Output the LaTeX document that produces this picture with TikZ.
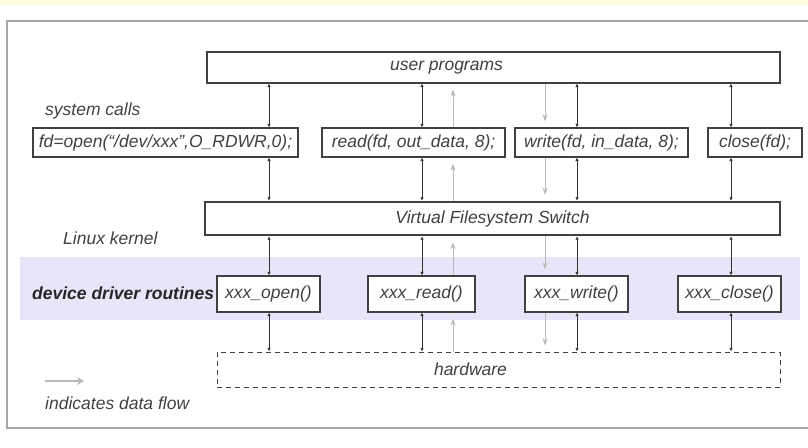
\documentclass[tikz,border=0pt]{standalone}
\usepackage{fontspec}
\setmainfont{Liberation Sans}
\usetikzlibrary{arrows.meta}

\definecolor{bandblue}{RGB}{230,230,248}
\definecolor{paleyellow}{RGB}{255,252,222}
\definecolor{flowgray}{RGB}{185,185,185}
\definecolor{inkgray}{RGB}{65,65,65}
\newcommand{\diagfont}{\fontsize{17.5}{20}\selectfont\itshape}

\tikzset{>=latex}
\tikzset{
  box/.style={draw=black!75, line width=1.2pt, fill=white, inner sep=0pt,
    font=\diagfont, text=inkgray},
  boxtext/.style={font=\diagfont, text=inkgray, inner sep=0pt},
  conn/.style={<->, >={Latex[length=3.5pt,width=3.5pt]}, line width=1pt, black!80},
  flow/.style={->, >={Stealth[length=7pt,width=5pt]}, flowgray, line width=1pt,
    shorten >=6pt},
  tag/.style={font=\diagfont, text=inkgray, inner sep=0pt, anchor=west}
}

\begin{document}
\begin{tikzpicture}[x=1pt,y=-1pt]
  \useasboundingbox (0,0) rectangle (808,447);
  \fill[paleyellow] (0,0) rectangle (808,5);
  \draw[gray!70, line width=1.5pt] (7,21) rectangle (812,428);
  \fill[bandblue] (20,257) rectangle (800,320);

  % layers
  \node[box, minimum width=573pt, minimum height=31pt,
    label={[boxtext, xshift=-47pt]center:user programs}] (user) at (493.5,67.5) {};
  \node[box, minimum width=265pt, minimum height=29pt] (s1) at (165.5,142.5) {fd=open(“/dev/xxx”,O\_RDWR,0);};
  \node[box, minimum width=183pt, minimum height=29pt] (s2) at (413.5,142.5) {read(fd, out\_data, 8);};
  \node[box, minimum width=173pt, minimum height=29pt] (s3) at (601.5,142.5) {write(fd, in\_data, 8);};
  \node[box, minimum width=94pt, minimum height=29pt] (s4) at (755,142.5) {close(fd);};
  \node[box, line width=2.4pt, minimum width=575pt, minimum height=33pt] (vfs) at (492.5,218.5) {Virtual Filesystem Switch};
  \node[box, minimum width=103pt, minimum height=36pt] (d1) at (268.5,294) {xxx\_open()};
  \node[box, minimum width=107pt, minimum height=36pt] (d2) at (421.5,294) {xxx\_read()};
  \node[box, minimum width=103pt, minimum height=36pt] (d3) at (576.5,294) {xxx\_write()};
  \node[box, minimum width=103pt, minimum height=36pt] (d4) at (729.5,294) {xxx\_close()};
  \node[box, dashed, dash pattern=on 5pt off 4pt, line width=1pt, minimum width=563pt,
    minimum height=35pt, label={[boxtext, xshift=-28pt]center:hardware}] (hw) at (498.5,369.5) {};

  % side labels
  \node[tag] (syscalls) at (45,111) {system calls};
  \node[tag] (kernel) at (63,238) {Linux kernel};
  \node[tag, font=\diagfont\bfseries, text=black!85] (routines) at (32,293) {device driver routines};
  \node[tag] (legend) at (45,403) {indicates data flow};

  % calls down through the layers
  \foreach \c/\x in {1/269,2/422,3/577,4/731} {
    \coordinate (col\c) at (\x,0);
    \draw[conn] (user.south -| col\c) -- (s\c.north -| col\c);
    \draw[conn] (s\c.south -| col\c) -- (vfs.north -| col\c);
    \draw[conn] (vfs.south -| col\c) -- (d\c.north -| col\c);
    \draw[conn] (d\c.south -| col\c) -- (hw.north -| col\c);
  }

  % data going up (read) and down (write)
  \coordinate (up) at (453,0);
  \coordinate (down) at (545,0);
  \draw[flow] (hw.north -| up) -- (d2.south -| up);
  \draw[flow] (d2.north -| up) -- (vfs.south -| up);
  \draw[flow] (vfs.north -| up) -- (s2.south -| up);
  \draw[flow] (s2.north -| up) -- (user.south -| up);
  \draw[flow] (user.south -| down) -- (s3.north -| down);
  \draw[flow] (s3.south -| down) -- (vfs.north -| down);
  \draw[flow] (vfs.south -| down) -- (d3.north -| down);
  \draw[flow] (d3.south -| down) -- (hw.north -| down);

  % key
  \coordinate (keya) at (45,381);
  \coordinate (keyb) at (84,381);
  \draw[flowgray, line width=2.5pt, -{Stealth[length=7pt,width=8pt]}] (keya) -- (keyb);
\end{tikzpicture}
\end{document}
